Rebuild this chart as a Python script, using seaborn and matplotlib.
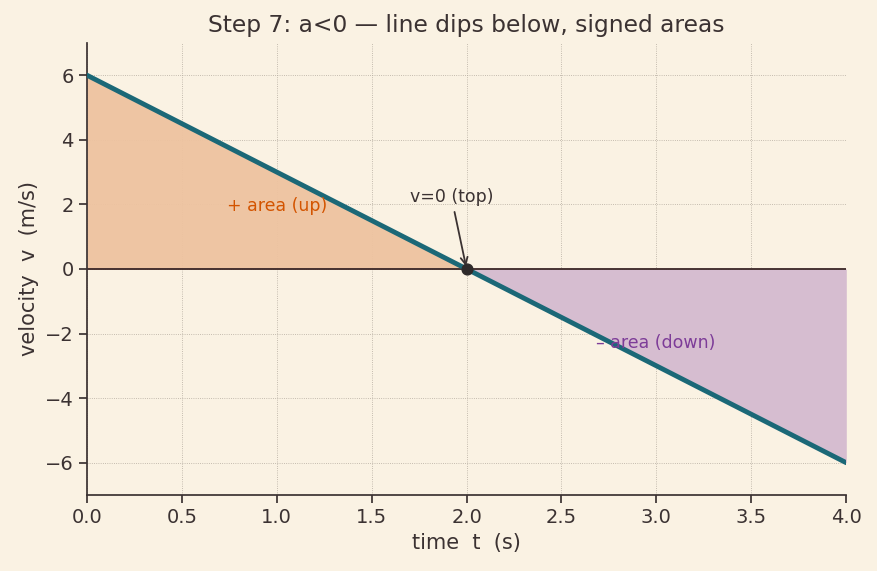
import numpy as np
import pandas as pd
import seaborn as sns
from matplotlib import pyplot as plt

# velocity vs time, constant negative acceleration
t_vals = [0.0, 2.0, 4.0]
v_vals = [6.0, 0.0, -6.0]

BG = "#FAF2E3"
INK = "#3B3232"

sns.set_theme(style="ticks", rc={
    "axes.facecolor": BG,
    "figure.facecolor": BG,
    "axes.edgecolor": INK,
    "axes.labelcolor": INK,
    "xtick.color": INK,
    "ytick.color": INK,
    "text.color": INK,
})
plt.rcParams["font.family"] = ["DejaVu Sans"]

df = pd.DataFrame({"t": t_vals, "v": v_vals})

fig, ax = plt.subplots(figsize=(8.77, 5.71), dpi=100)

t = np.array(t_vals)
v = np.array(v_vals)
ax.fill_between(t, v, 0, where=v >= 0, interpolate=True, color="#EEC3A0", alpha=0.95, linewidth=0)
ax.fill_between(t, v, 0, where=v <= 0, interpolate=True, color="#D6BDD0", linewidth=0)
ax.axhline(0, color="#3A2626", linewidth=1.3, zorder=2)

sns.lineplot(data=df, x="t", y="v", ax=ax, color="#1B6877", linewidth=3.5, zorder=3)
ax.scatter([2.0], [0.0], s=60, color="#2E2A2A", zorder=4)

ax.text(0.74, 1.95, "+ area (up)", color="#D35400", fontsize=12.5, va="center")
ax.text(2.68, -2.28, "\u2013 area (down)", color="#7D3C98", fontsize=12.5, va="center")
ax.annotate("v=0 (top)", xy=(2.0, 0.0), xytext=(1.7, 1.95), fontsize=12.5,
            color=INK, va="bottom",
            arrowprops=dict(arrowstyle="->", color=INK, lw=1.3))

ax.set_xlim(0, 4)
ax.set_ylim(-7, 7)
ax.set_xticks(np.arange(0, 4.01, 0.5))
ax.set_yticks([-6, -4, -2, 0, 2, 4, 6])
ax.set_xticklabels([f"{x:.1f}" for x in np.arange(0, 4.01, 0.5)])
ax.set_yticklabels(["\u22126", "\u22124", "\u22122", "0", "2", "4", "6"])
ax.tick_params(labelsize=14)
ax.grid(True, linestyle=":", linewidth=0.6, color="#B3AA9E")
ax.set_axisbelow(True)
sns.despine(ax=ax)

ax.set_title("Step 7: a<0 \u2014 line dips below, signed areas", fontsize=16.8, color=INK, pad=8)
ax.set_xlabel("time  t  (s)", fontsize=15)
ax.set_ylabel("velocity  v  (m/s)", fontsize=15)

fig.subplots_adjust(left=0.099, right=0.965, top=0.925, bottom=0.133)
fig.savefig("out.png", dpi=100, facecolor=BG)
